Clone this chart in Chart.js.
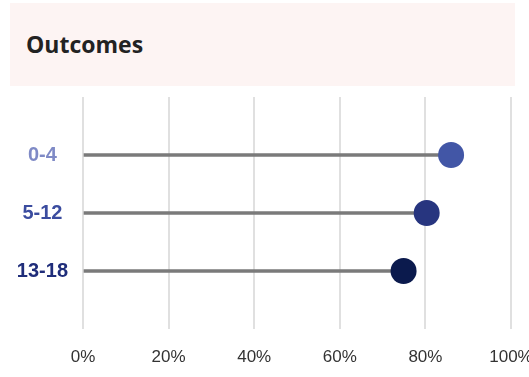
<!DOCTYPE html>
<html>
<head>
<meta charset="utf-8">
<script src="https://cdn.jsdelivr.net/npm/chart.js@4"></script>
<style>
  html, body { margin: 0; padding: 0; width: 529px; height: 377px; overflow: hidden; background: #fff; }
  .header {
    position: absolute; left: 10px; top: 3px; width: 505px; height: 83px;
    background: #fdf4f3; z-index: 0;
  }
  .header h1 {
    position: absolute; left: 16px; top: 27px; margin: 0;
    font-family: "Open Sans", "Noto Sans", sans-serif; font-weight: 700; font-size: 23px;
    line-height: 28px; color: #222;
  }
  .chart-wrap { position: absolute; left: 0; top: 84px; width: 529px; height: 295px; z-index: 1; }
</style>
</head>
<body>
<div class="header"><h1>Outcomes</h1></div>
<div class="chart-wrap"><canvas id="outcomes-chart"></canvas></div>
<script>
// data
const categories = ['0-4', '5-12', '13-18'];
const outcomeValues = [86, 80.3, 74.9];
const xTicks = [0, 20, 40, 60, 80, 100];

// styles
const labelColors = ['#7f8ac6', '#3b4c9f', '#1f2d7a'];
const dotColors = ['#4256a6', '#27357f', '#0b1a4d'];

const rows = categories.map(function(c, i) {
    return { x: outcomeValues[i], y: i + 1 };
});

const sans = "'Liberation Sans', Arial, sans-serif";

const ctx = document.getElementById('outcomes-chart').getContext('2d');
new Chart(ctx, {
    type: 'bar',
    data: {
        datasets: [{
            type: 'bar',
            data: rows,
            backgroundColor: '#7a7a7a',
            barThickness: 3,
            order: 2
        }, {
            type: 'scatter',
            data: rows,
            pointRadius: 13,
            pointHoverRadius: 13,
            pointBackgroundColor: dotColors,
            pointBorderWidth: 0,
            order: 1
        }]
    },
    options: {
        indexAxis: 'y',
        responsive: true,
        maintainAspectRatio: false,
        animation: false,
        layout: { padding: { top: 2, left: 0, right: 18, bottom: 0 } },
        plugins: {
            legend: { display: false },
            tooltip: { enabled: false }
        },
        scales: {
            x: {
                type: 'linear',
                min: 0,
                max: 100,
                afterBuildTicks: function(axis) {
                    axis.ticks = xTicks.map(function(v) { return { value: v }; });
                },
                ticks: {
                    padding: 18,
                    color: '#333',
                    font: { family: sans, size: 17 },
                    callback: function(v) { return v + '%'; }
                },
                grid: { color: '#e0e0e0', lineWidth: 2, drawTicks: false },
                border: { display: false },
                afterFit: function(axis) {
                    axis.height = 50;
                    axis.paddingLeft = 0;
                    axis.paddingRight = 0;
                }
            },
            y: {
                type: 'linear',
                reverse: true,
                offset: false,
                min: 0,
                max: categories.length + 1,
                afterBuildTicks: function(axis) {
                    axis.ticks = categories.map(function(c, i) { return { value: i + 1 }; });
                },
                ticks: {
                    padding: 7,
                    crossAlign: 'center',
                    color: function(c) { return labelColors[c.index]; },
                    font: { family: sans, size: 20, weight: 'bold' },
                    callback: function(v) { return categories[v - 1]; }
                },
                grid: { display: false },
                border: { display: false },
                afterFit: function(axis) {
                    axis.width = 83;
                    axis.paddingTop = 0;
                    axis.paddingBottom = 0;
                }
            }
        }
    }
});
</script>
</body>
</html>
